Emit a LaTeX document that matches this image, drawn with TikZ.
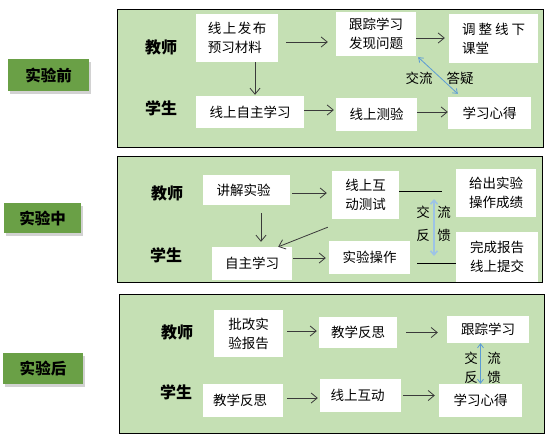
\documentclass[tikz,border=0pt]{standalone}
\usepackage{fontspec}
\setmainfont{Noto Sans CJK SC}
\usetikzlibrary{arrows.meta,shadows,calc}
\definecolor{panelgreen}{HTML}{C5E0B4}
\definecolor{tabgreen}{HTML}{6AA046}
\definecolor{arrgray}{HTML}{3A3A3A}
\definecolor{fbblue}{HTML}{5B9BD5}
\definecolor{fbblue2}{HTML}{9DC3E6}
\tikzset{
  panel/.style={draw=black,line width=0.9pt,fill=panelgreen},
  tab/.style={fill=tabgreen,inner sep=0pt,font=\fontsize{15.5}{17}\selectfont\bfseries,
    drop shadow={shadow xshift=1.5pt,shadow yshift=-2.5pt,opacity=0.35}},
  wbox/.style={fill=white,inner sep=0pt,font=\fontsize{13.5}{19}\selectfont,align=left},
  role/.style={font=\fontsize{16}{18}\selectfont\bfseries,inner sep=0pt},
  lbl/.style={font=\fontsize{13.5}{16}\selectfont,inner sep=0pt},
  arr/.style={draw=arrgray,line width=0.8pt,-{Straight Barb[length=6pt,width=10pt]}},
  conn/.style={draw=black,line width=0.8pt},
  fb/.style={draw=fbblue,line width=0.8pt,{Straight Barb[length=4pt,width=6pt]}-{Straight Barb[length=4pt,width=6pt]}},
  fbthick/.style={draw=fbblue2,line width=1.6pt,{Straight Barb[length=4pt,width=7pt]}-{Straight Barb[length=4pt,width=7pt]}},
}
\begin{document}
\begin{tikzpicture}[x=1pt,y=-1pt]
\useasboundingbox (0,0) rectangle (545,445);
\fill[white] (0,0) rectangle (545,445);
% panels
\path[panel] (117,9) rectangle (543,147);
\path[panel] (117,156) rectangle (542,282);
\path[panel] (119,294) rectangle (544,433);
% tabs
\node[tab,minimum width=81pt,minimum height=32pt] (t1) at (48.5,75) {实验前};
\node[tab,minimum width=77pt,minimum height=30pt] (t2) at (42.5,218) {实验中};
\node[tab,minimum width=80pt,minimum height=31pt] (t3) at (43,368.5) {实验后};

% ---------- panel 1 ----------
\node[role] (r1t) at (161,47) {教师};
\node[role] (r1s) at (161,108) {学生};
\node[wbox,minimum width=82pt,minimum height=48pt] (a1) at (237,38) {线\hspace{1.5pt}上\hspace{1.5pt}发\hspace{1.5pt}布\\预习材料};
\node[wbox,minimum width=80pt,minimum height=44pt] (a2) at (376,34) {跟踪学习\\发现问题};
\node[wbox,minimum width=89pt,minimum height=49pt] (a3) at (493.5,38.5) {调\hspace{3pt}整\hspace{3pt}线\hspace{3pt}下\\课堂};
\node[wbox,minimum width=108pt,minimum height=32pt] (b1) at (250,112) {线上自主学习};
\node[wbox,minimum width=81pt,minimum height=33pt] (b2) at (376.5,114.5) {线上测验};
\node[wbox,minimum width=83pt,minimum height=32pt] (b3) at (489.5,113) {学习心得};
\draw[arr,shorten <=8pt,shorten >=8pt] ([yshift=-4pt]a1.east) -- ([yshift=-4pt]a1.east -| a2.west);
\draw[arr,shorten >=4pt] ([yshift=-4pt]a2.east) -- ([yshift=-4pt]a2.east -| a3.west);
\draw[arr,shorten >=1pt] ([xshift=18pt]a1.south) -- ([xshift=18pt]a1.south |- b1.north);
\draw[arr,shorten >=2pt] ([yshift=2pt]b1.east) -- ([yshift=2pt]b1.east -| b2.west);
\draw[arr] ([yshift=2.5pt]b2.east) -- ([yshift=2.5pt]b2.east -| b3.west);
\draw[fb] ([xshift=2pt,yshift=-1pt]a2.south east) -- ([xshift=10pt,yshift=3pt]b3.north west);
\node[lbl] (l1a) at (419,78) {交流};
\node[lbl] (l1b) at (460,78) {答疑};

% ---------- panel 2 ----------
\node[role] (r2t) at (167,193) {教师};
\node[role] (r2s) at (166,255) {学生};
\node[wbox,minimum width=87pt,minimum height=30pt] (c1) at (246.5,190) {讲解实验\hspace{6pt}};
\node[wbox,minimum width=67pt,minimum height=48pt] (c2) at (365.5,195) {线上互\\动测试\hspace{4pt}};
\node[wbox,minimum width=80pt,minimum height=48pt] (c3) at (496,193) {给出实验\\操作成绩};
\node[wbox,minimum width=80pt,minimum height=33pt] (d1) at (252,263.5) {自主学习};
\node[wbox,minimum width=81pt,minimum height=33pt] (d2) at (369.5,257.5) {实验操作};
\node[wbox,minimum width=82pt,minimum height=50pt] (d3) at (497,257) {完成报告\\线上提交};
\draw[arr,shorten <=2pt,shorten >=5pt] ([yshift=-3pt]c1.east) -- ([yshift=-3pt]c1.east -| c2.west);
\draw[arr,shorten <=8pt,shorten >=5pt] ([xshift=14.5pt]c1.south) -- ([xshift=14.5pt]c1.south |- d1.north);
\draw[arr] ([xshift=-4pt,yshift=-8pt]c2.south west) -- ([xshift=-14pt]d1.north east);
\draw[arr,shorten <=1pt,shorten >=3pt] ([yshift=5.5pt]d1.east) -- ([yshift=5.5pt]d1.east -| d2.west);
\coordinate (e1) at (442,191);
\coordinate (e2) at (417,263);
\draw[conn] ([yshift=4pt]c2.east) -- (e1);
\draw[conn] (e2) -- (e2 -| d3.west);
\coordinate (f1) at (434,199);
\coordinate (f2) at (434,256);
\draw[fbthick] (f1) -- (f2);
\node[lbl] (l2a) at (423,212) {交};
\node[lbl] (l2b) at (444,212) {流};
\node[lbl] (l2c) at (423,235) {反};
\node[lbl] (l2d) at (444,235) {馈};

% ---------- panel 3 ----------
\node[role] (r3t) at (177,332) {教师};
\node[role] (r3s) at (176,392) {学生};
\node[wbox,minimum width=69pt,minimum height=47pt] (g1) at (248.5,333.5) {批改实\\验报告\hspace{4pt}};
\node[wbox,minimum width=78pt,minimum height=31pt] (g2) at (358,332.5) {教学反思};
\node[wbox,minimum width=82pt,minimum height=27pt] (g3) at (488,329.5) {跟踪学习};
\node[wbox,minimum width=80pt,minimum height=33pt] (h1) at (243,400.5) {教学反思\hspace{6pt}};
\node[wbox,minimum width=81pt,minimum height=33pt] (h2) at (360.5,395.5) {线上互动\hspace{6pt}};
\node[wbox,minimum width=83pt,minimum height=33pt] (h3) at (480.5,400.5) {学习心得};
\draw[arr,shorten <=4pt,shorten >=2pt] ([yshift=2.5pt]g1.east) -- ([yshift=2.5pt]g1.east -| g2.west);
\draw[arr,shorten <=9pt,shorten >=9pt] (g2.east) -- (g2.east -| g3.west);
\draw[arr,shorten <=4pt,shorten >=2pt] ([yshift=2.5pt]h1.east) -- ([yshift=2.5pt]h1.east -| h2.west);
\draw[arr,shorten <=2pt,shorten >=4pt] (h2.east) -- (h2.east -| h3.west);
\draw[fb] (h3.north |- g3.south) -- (h3.north);
\node[lbl] (l3a) at (471,358) {交};
\node[lbl] (l3b) at (494,358) {流};
\node[lbl] (l3c) at (471,377) {反};
\node[lbl] (l3d) at (494,377) {馈};
\end{tikzpicture}
\end{document}
